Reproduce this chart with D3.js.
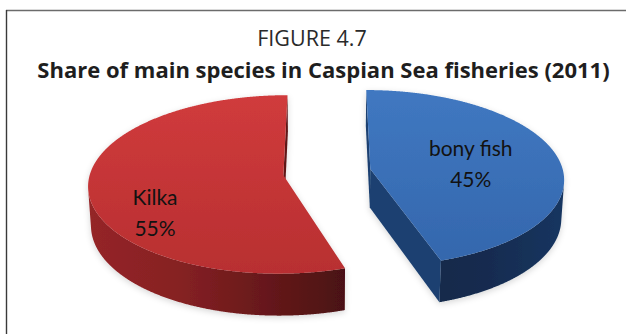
<!DOCTYPE html>
<html>
<head>
<meta charset="utf-8">
<script src="https://cdn.jsdelivr.net/npm/d3@7"></script>
<style>
  html, body { margin: 0; padding: 0; background: #ffffff; }
  svg { display: block; }
</style>
</head>
<body>
<svg id="chart" width="626" height="334"></svg>
<script>
// ---- data ----
const categories = ["bony fish", "Kilka"];
const shares = [45, 55];
const valueLabels = ["45%", "55%"];
const figureNumber = "FIGURE 4.7";
const chartTitle = "Share of main species in Caspian Sea fisheries (2011)";

// ---- styles ----
const topColors = { "bony fish": ["#4078c1", "#3467ad"], "Kilka": ["#d03b3c", "#b82f31"] };
const sideColors = { "bony fish": ["#12294b", "#183560"], "Kilka": ["#952527", "#4a1113"] };
const radialColors = { "bony fish": "#1c4071", "Kilka": "#5e1517" };
const labelNudge = { "bony fish": [-12, 4], "Kilka": [-12, 30] };

const W = 626, H = 334;
// 3D view of the pie: centre on screen, radius, thickness, tilt, camera distance, explosion
const view = { cx: 327, cy: 172, R: 193, thick: 44, tilt: 27 * Math.PI / 180, focal: 1660, explode: 44 };
const sinT = Math.sin(view.tilt), cosT = Math.cos(view.tilt);

const svg = d3.select("#chart");
const defs = svg.append("defs");

// perspective projection of a point (X right, Y up, D towards viewer)
function project(X, Y, D) {
  const v = Y * cosT - D * sinT;
  const w = D * cosT + Y * sinT;
  const k = view.focal / (view.focal - w);
  return [view.cx + X * k, view.cy - v * k];
}
const cam = [0, view.focal * sinT, view.focal * cosT];

const pie = d3.pie().sort(null).value(d => d.value);
const slices = pie(categories.map((c, i) => ({ name: c, value: shares[i], label: valueLabels[i] })));

const line = d3.line();
const step = Math.PI / 720;

function sampleAngles(a0, a1) {
  const n = Math.max(2, Math.ceil((a1 - a0) / step));
  return d3.range(n + 1).map(i => a0 + (a1 - a0) * i / n);
}

// frame lines
svg.append("line").attr("x1", 6).attr("y1", 10.5).attr("x2", W).attr("y2", 10.5)
  .attr("stroke", "#6b6b6b").attr("stroke-width", 1.4);
svg.append("line").attr("x1", 6.5).attr("y1", 10).attr("x2", 6.5).attr("y2", H)
  .attr("stroke", "#3a3a3a").attr("stroke-width", 1.4);

// titles
svg.append("text").attr("x", 312).attr("y", 46).attr("text-anchor", "middle")
  .attr("font-family", "'Open Sans', 'Noto Sans', sans-serif").attr("font-size", 21.5)
  .attr("fill", "#2a2a2a").text(figureNumber);
svg.append("text").attr("x", 323.5).attr("y", 78).attr("text-anchor", "middle")
  .attr("font-family", "'Open Sans', 'Noto Sans', sans-serif").attr("font-weight", 700)
  .attr("font-size", 22).attr("fill", "#1e1e1e").text(chartTitle);

// soft shadow under the slices
const shadow = defs.append("filter").attr("id", "soft").attr("x", "-10%").attr("y", "-10%")
  .attr("width", "120%").attr("height", "130%");
shadow.append("feDropShadow").attr("dx", 0).attr("dy", 2).attr("stdDeviation", 3)
  .attr("flood-color", "#000").attr("flood-opacity", 0.16);

const pieLayer = svg.append("g");

slices.forEach((d, i) => {
  const name = d.data.name;
  const a0 = d.startAngle, a1 = d.endAngle, mid = (a0 + a1) / 2;
  const ox = view.explode * Math.sin(mid), od = -view.explode * Math.cos(mid);
  const R = view.R;
  const rimX = a => ox + R * Math.sin(a);
  const rimD = a => od - R * Math.cos(a);

  const g = pieLayer.append("g").attr("filter", "url(#soft)");

  // outer side: keep only the part turned towards the camera
  const angles = sampleAngles(a0, a1).filter(a => {
    const X = rimX(a), D = rimD(a);
    return (-X * Math.sin(a) - (cam[2] - D) * Math.cos(a)) > 0;
  });
  if (angles.length > 1) {
    const topEdge = angles.map(a => project(rimX(a), 0, rimD(a)));
    const botEdge = angles.map(a => project(rimX(a), -view.thick, rimD(a))).reverse();
    const pts = topEdge.concat(botEdge);
    const xs = d3.extent(pts, p => p[0]);
    const gid = "side" + i;
    const lg = defs.append("linearGradient").attr("id", gid).attr("gradientUnits", "userSpaceOnUse")
      .attr("x1", xs[0]).attr("y1", 0).attr("x2", xs[1]).attr("y2", 0);
    lg.append("stop").attr("offset", "0%").attr("stop-color", sideColors[name][0]);
    lg.append("stop").attr("offset", "35%").attr("stop-color", d3.interpolateRgb(sideColors[name][0], sideColors[name][1])(0.2));
    lg.append("stop").attr("offset", "100%").attr("stop-color", sideColors[name][1]);
    g.append("path").attr("d", line(pts) + "Z").attr("fill", `url(#${gid})`);
  }

  // radial cut faces, drawn only when facing the camera
  [[a0, [-Math.cos(a0), -Math.sin(a0)]], [a1, [Math.cos(a1), Math.sin(a1)]]].forEach(([a, n]) => {
    const dot = n[0] * (cam[0] - ox) + n[1] * (cam[2] - od);
    if (dot <= 0) return;
    const quad = [
      project(ox, 0, od), project(rimX(a), 0, rimD(a)),
      project(rimX(a), -view.thick, rimD(a)), project(ox, -view.thick, od)
    ];
    g.append("path").attr("d", line(quad) + "Z").attr("fill", radialColors[name]);
  });

  // top face
  const topPts = [project(ox, 0, od)].concat(sampleAngles(a0, a1).map(a => project(rimX(a), 0, rimD(a))));
  const ys = d3.extent(topPts, p => p[1]);
  const tid = "top" + i;
  const tg = defs.append("linearGradient").attr("id", tid).attr("gradientUnits", "userSpaceOnUse")
    .attr("x1", 0).attr("y1", ys[0]).attr("x2", 0).attr("y2", ys[1]);
  tg.append("stop").attr("offset", "0%").attr("stop-color", topColors[name][0]);
  tg.append("stop").attr("offset", "100%").attr("stop-color", topColors[name][1]);
  g.append("path").attr("d", line(topPts) + "Z").attr("fill", `url(#${tid})`);

  // data label
  const lr = 0.6 * R;
  const lp = project(ox + lr * Math.sin(mid), 0, od - lr * Math.cos(mid));
  const nudge = labelNudge[name];
  const lx = lp[0] + nudge[0], ly = lp[1] + nudge[1];
  const t = svg.append("text").attr("text-anchor", "middle")
    .attr("font-family", "Lato, 'Noto Sans', sans-serif").attr("font-size", 21)
    .attr("fill", "#121212");
  t.append("tspan").attr("x", lx).attr("y", ly - 9).text(name);
  t.append("tspan").attr("x", lx).attr("y", ly + 22).text(d.data.label);
});
</script>
</body>
</html>
